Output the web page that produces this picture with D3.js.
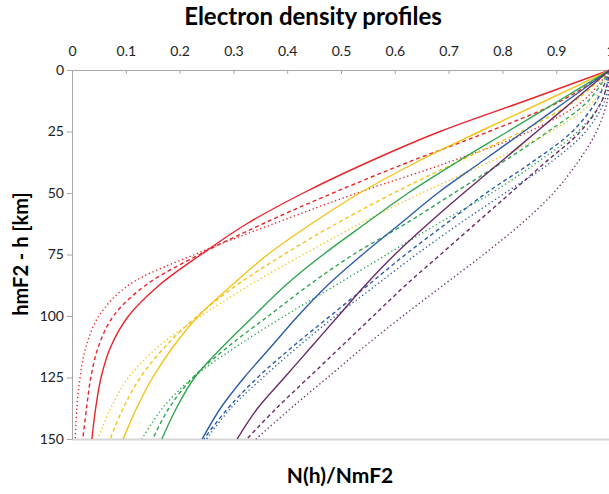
<!DOCTYPE html>
<html>
<head>
<meta charset="utf-8">
<script src="https://cdn.jsdelivr.net/npm/d3@7"></script>
<style>
  body { margin: 0; background: #fff; }
  text { font-family: Lato, "Open Sans", sans-serif; }
</style>
</head>
<body>
<div id="chart"></div>
<script>
// depth below the peak (km), same for every profile
const depths = [0, 12.5, 25, 37.5, 50, 62.5, 75, 87.5, 100, 112.5, 125, 137.5, 150];

// N(h)/NmF2, one array per profile
const redSolid     = [1, 0.843, 0.684, 0.550, 0.430, 0.325, 0.240, 0.162, 0.105, 0.072, 0.054, 0.044, 0.037];
const redDashed    = [1, 0.910, 0.775, 0.625, 0.485, 0.355, 0.237, 0.137, 0.077, 0.049, 0.035, 0.027, 0.020];
const redDotted    = [1, 0.950, 0.850, 0.700, 0.530, 0.375, 0.228, 0.105, 0.050, 0.026, 0.015, 0.009, 0.006];
const yellowSolid  = [1, 0.880, 0.758, 0.640, 0.535, 0.445, 0.364, 0.297, 0.235, 0.188, 0.150, 0.120, 0.095];
const yellowDashed = [1, 0.935, 0.835, 0.715, 0.598, 0.491, 0.394, 0.306, 0.233, 0.173, 0.127, 0.095, 0.071];
const yellowDotted = [1, 0.970, 0.890, 0.775, 0.650, 0.535, 0.430, 0.330, 0.240, 0.160, 0.105, 0.072, 0.048];
const greenSolid   = [1, 0.905, 0.810, 0.715, 0.625, 0.545, 0.467, 0.397, 0.338, 0.280, 0.228, 0.194, 0.167];
const greenDashed  = [1, 0.960, 0.885, 0.800, 0.710, 0.620, 0.523, 0.440, 0.365, 0.290, 0.225, 0.180, 0.150];
const greenDotted  = [1, 0.985, 0.940, 0.865, 0.780, 0.680, 0.585, 0.490, 0.395, 0.305, 0.225, 0.168, 0.130];
const blueSolid    = [1, 0.920, 0.840, 0.760, 0.680, 0.610, 0.540, 0.475, 0.420, 0.370, 0.320, 0.276, 0.242];
const blueDashed   = [1, 0.975, 0.930, 0.855, 0.770, 0.695, 0.620, 0.550, 0.480, 0.410, 0.345, 0.290, 0.245];
const blueDotted   = [1, 0.990, 0.955, 0.890, 0.805, 0.720, 0.640, 0.565, 0.490, 0.420, 0.355, 0.295, 0.250];
const purpleSolid  = [1, 0.932, 0.864, 0.796, 0.728, 0.662, 0.600, 0.545, 0.495, 0.445, 0.395, 0.345, 0.307];
const purpleDashed = [1, 0.985, 0.945, 0.880, 0.815, 0.750, 0.685, 0.620, 0.560, 0.500, 0.440, 0.380, 0.325];
const purpleDotted = [1, 0.995, 0.975, 0.940, 0.895, 0.835, 0.765, 0.690, 0.615, 0.543, 0.475, 0.407, 0.342];

const xTicks = [0, 0.1, 0.2, 0.3, 0.4, 0.5, 0.6, 0.7, 0.8, 0.9, 1];
const yTicks = [0, 25, 50, 75, 100, 125, 150];

const colors = {red: "#e8242b", yellow: "#f5c314", green: "#2fa650", blue: "#2c5ea6", purple: "#6b2b68"};
const dashes = {solid: null, dashed: "4,3", dotted: "1.3,2.7"};

const profiles = [
  {c: "red", s: "solid", v: redSolid}, {c: "red", s: "dashed", v: redDashed}, {c: "red", s: "dotted", v: redDotted},
  {c: "yellow", s: "solid", v: yellowSolid}, {c: "yellow", s: "dashed", v: yellowDashed}, {c: "yellow", s: "dotted", v: yellowDotted},
  {c: "green", s: "solid", v: greenSolid}, {c: "green", s: "dashed", v: greenDashed}, {c: "green", s: "dotted", v: greenDotted},
  {c: "blue", s: "solid", v: blueSolid}, {c: "blue", s: "dashed", v: blueDashed}, {c: "blue", s: "dotted", v: blueDotted},
  {c: "purple", s: "solid", v: purpleSolid}, {c: "purple", s: "dashed", v: purpleDashed}, {c: "purple", s: "dotted", v: purpleDotted}
];

const w = 609, h = 494;
const mLeft = 72, mRight = 610, mTop = 70, mBottom = 439;

const svg = d3.select("#chart").append("svg")
    .attr("width", w)
    .attr("height", h);

const x = d3.scaleLinear().domain([0, 1]).range([mLeft, mRight]);
const y = d3.scaleLinear().domain([0, 150]).range([mTop, mBottom]);

// bottom border of the plot
svg.append("line")
    .attr("x1", mLeft).attr("x2", w)
    .attr("y1", mBottom + 0.5).attr("y2", mBottom + 0.5)
    .attr("stroke", "#d6d6d6").attr("stroke-width", 2);

const xAxis = svg.append("g")
    .attr("transform", "translate(0," + mTop + ")")
    .call(d3.axisTop(x).tickValues(xTicks).tickFormat(d3.format("~g")).tickSize(-4).tickPadding(14));

const yAxis = svg.append("g")
    .attr("transform", "translate(" + mLeft + ",0)")
    .call(d3.axisLeft(y).tickValues(yTicks).tickSize(5).tickPadding(3));

[xAxis, yAxis].forEach(g => {
  g.selectAll("path").attr("stroke", "#a8a8a8");
  g.selectAll("line").attr("stroke", "#a8a8a8");
  g.selectAll("text").attr("fill", "#222").style("font-size", "14px").style("font-family", "Lato, sans-serif");
});

const line = d3.line()
    .x(d => x(d[1]))
    .y(d => y(d[0]))
    .curve(d3.curveCatmullRom.alpha(0.5));

svg.append("g").selectAll("path")
    .data(profiles)
    .enter()
    .append("path")
    .attr("d", p => line(depths.map((dep, i) => [dep, p.v[i]])))
    .attr("fill", "none")
    .attr("stroke", p => colors[p.c])
    .attr("stroke-width", 1.4)
    .attr("stroke-dasharray", p => dashes[p.s]);

svg.append("text")
    .attr("x", 313).attr("y", 25)
    .attr("text-anchor", "middle")
    .style("font-size", "24px").style("font-weight", "bold")
    .text("Electron density profiles");

svg.append("text")
    .attr("x", 340).attr("y", 483)
    .attr("text-anchor", "middle")
    .style("font-size", "21px").style("font-weight", "bold")
    .text("N(h)/NmF2");

svg.append("text")
    .attr("transform", "translate(28,254) rotate(-90)")
    .attr("text-anchor", "middle")
    .style("font-size", "20px").style("font-weight", "bold")
    .text("hmF2 - h [km]");
</script>
</body>
</html>
